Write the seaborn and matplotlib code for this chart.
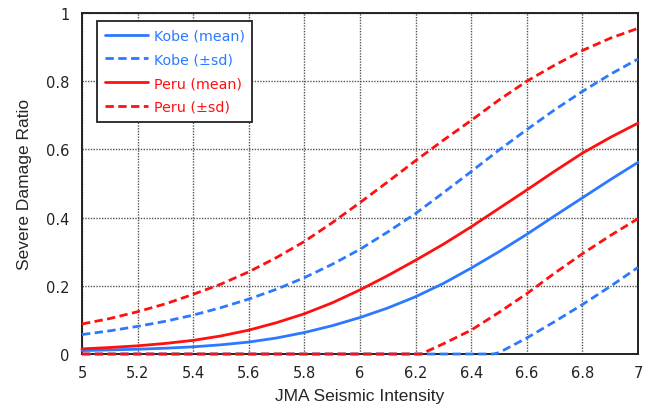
import matplotlib
matplotlib.use("Agg")
import matplotlib.pyplot as plt
import seaborn as sns
import pandas as pd

# ---- data ----
x = [5.0, 5.1, 5.2, 5.3, 5.4, 5.5, 5.6, 5.7, 5.8, 5.9, 6.0,
     6.1, 6.2, 6.3, 6.4, 6.5, 6.6, 6.7, 6.8, 6.9, 7.0]
kobe_mean = [0.010, 0.012, 0.014, 0.017, 0.021, 0.027, 0.035, 0.047, 0.063, 0.083, 0.107,
             0.135, 0.168, 0.207, 0.252, 0.300, 0.351, 0.405, 0.458, 0.511, 0.562]
kobe_upper = [0.057, 0.068, 0.081, 0.096, 0.114, 0.136, 0.161, 0.190, 0.224, 0.263, 0.307,
              0.358, 0.412, 0.473, 0.535, 0.598, 0.658, 0.716, 0.770, 0.820, 0.865]
peru_mean = [0.015, 0.019, 0.024, 0.031, 0.040, 0.053, 0.070, 0.092, 0.118, 0.150, 0.188,
             0.230, 0.275, 0.322, 0.373, 0.427, 0.481, 0.536, 0.589, 0.635, 0.677]
peru_upper = [0.088, 0.104, 0.124, 0.147, 0.175, 0.205, 0.241, 0.283, 0.330, 0.385, 0.444,
              0.505, 0.567, 0.627, 0.685, 0.745, 0.800, 0.847, 0.890, 0.926, 0.955]
kobe_lower_x = [5.0, 6.0, 6.48, 6.5, 6.6, 6.7, 6.8, 6.9, 7.0]
kobe_lower = [0.0, 0.0, 0.0, 0.004, 0.047, 0.095, 0.145, 0.198, 0.254]
peru_lower_x = [5.0, 6.0, 6.22, 6.3, 6.4, 6.5, 6.6, 6.7, 6.8, 6.9, 7.0]
peru_lower = [0.0, 0.0, 0.0, 0.030, 0.070, 0.122, 0.177, 0.237, 0.294, 0.347, 0.397]

x_ticks = [5, 5.2, 5.4, 5.6, 5.8, 6, 6.2, 6.4, 6.6, 6.8, 7]
x_tick_labels = ["5", "5.2", "5.4", "5.6", "5.8", "6", "6.2", "6.4", "6.6", "6.8", "7"]
y_ticks = [0, 0.2, 0.4, 0.6, 0.8, 1.0]
y_tick_labels = ["0", "0.2", "0.4", "0.6", "0.8", "1"]

BLUE = "#2b79ff"
RED = "#ff1010"

sns.set_style("white")
plt.rcParams["font.family"] = ["DejaVu Sans"]

fig = plt.figure(figsize=(6.53, 4.06), dpi=100)
ax = fig.add_axes([82 / 653, 1 - 355 / 406, 556 / 653, 341 / 406])

ax.set_xlim(5, 7)
ax.set_ylim(0, 1)
ax.set_xticks(x_ticks)
ax.set_xticklabels(x_tick_labels)
ax.set_yticks(y_ticks)
ax.set_yticklabels(y_tick_labels)
ax.grid(True, linestyle=(0, (1, 1)), color="#555555", linewidth=1.0)
ax.set_axisbelow(True)

lw = 2.0
dash = (3.0, 1.6)

df_km = pd.DataFrame({"x": x, "y": kobe_mean})
df_ku = pd.DataFrame({"x": x, "y": kobe_upper})
df_kl = pd.DataFrame({"x": kobe_lower_x, "y": kobe_lower})
df_pm = pd.DataFrame({"x": x, "y": peru_mean})
df_pu = pd.DataFrame({"x": x, "y": peru_upper})
df_pl = pd.DataFrame({"x": peru_lower_x, "y": peru_lower})

sns.lineplot(data=df_km, x="x", y="y", ax=ax, color=BLUE, lw=lw)
sns.lineplot(data=df_ku, x="x", y="y", ax=ax, color=BLUE, lw=lw)
sns.lineplot(data=df_kl, x="x", y="y", ax=ax, color=BLUE, lw=lw)
sns.lineplot(data=df_pm, x="x", y="y", ax=ax, color=RED, lw=lw)
sns.lineplot(data=df_pu, x="x", y="y", ax=ax, color=RED, lw=lw)
sns.lineplot(data=df_pl, x="x", y="y", ax=ax, color=RED, lw=lw)

lines = ax.get_lines()
for ln in lines:
    ln.set_clip_on(False)
    ln.set_zorder(3)
for idx in (1, 2, 4, 5):
    lines[idx].set_linestyle((0, dash))

for sp in ax.spines.values():
    sp.set_color("#222222")
    sp.set_linewidth(1.4)

ax.tick_params(axis="both", length=0, labelsize=10.5, colors="#222222")
ax.tick_params(axis="y", pad=9)
ax.tick_params(axis="x", pad=8)

ax.set_xlabel("JMA Seismic Intensity", fontsize=12.5, family="Liberation Sans", labelpad=6)
ax.set_ylabel("Severe Damage Ratio", fontsize=12.5, family="Liberation Sans", labelpad=10)

handles = [lines[0], lines[1], lines[3], lines[4]]
labels = ["Kobe (mean)", "Kobe (±sd)", "Peru (mean)", "Peru (±sd)"]
leg = ax.legend(handles, labels, loc="upper left", bbox_to_anchor=(0.027, 0.977),
                borderaxespad=0, fancybox=False, frameon=True, fontsize=10.3,
                handlelength=3.0, handletextpad=0.4, labelspacing=0.68, borderpad=0.55)
leg.get_frame().set_edgecolor("#222222")
leg.get_frame().set_linewidth(1.3)
leg.get_frame().set_alpha(1)
for txt, col in zip(leg.get_texts(), [BLUE, BLUE, RED, RED]):
    txt.set_color(col)

fig.savefig("out.png", dpi=100)
